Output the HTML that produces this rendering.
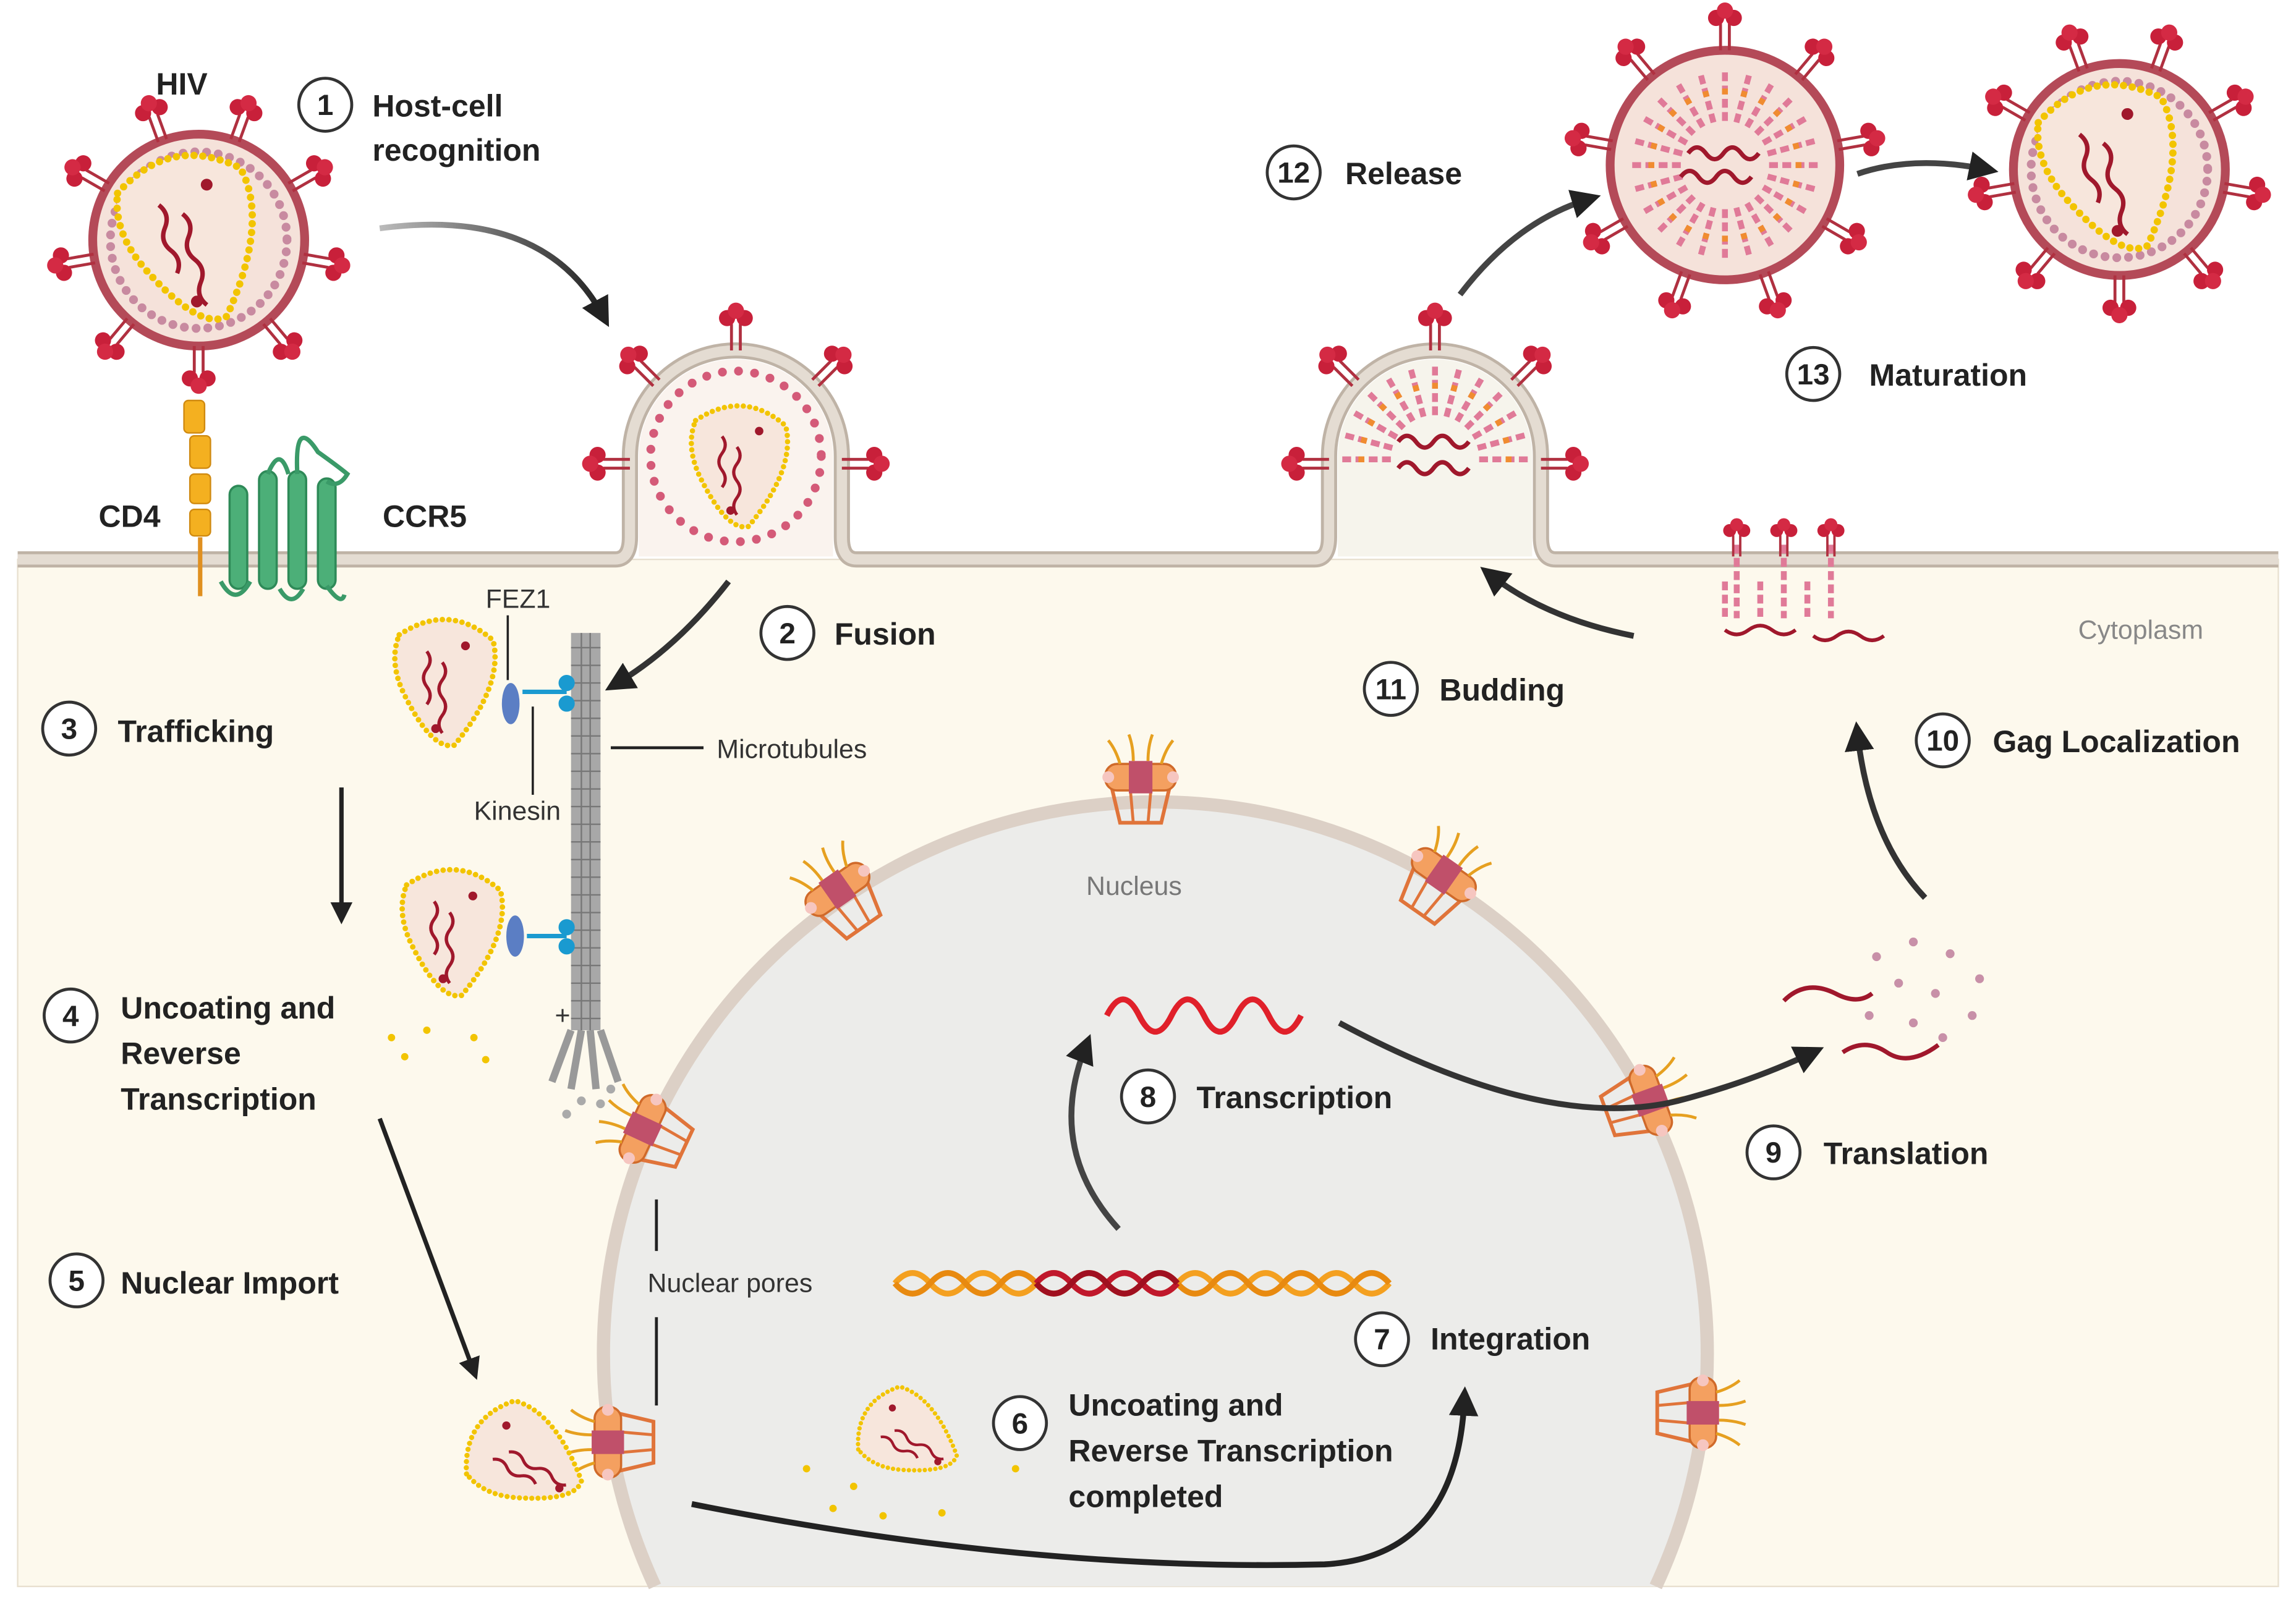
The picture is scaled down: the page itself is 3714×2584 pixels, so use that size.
<!DOCTYPE html>
<html><head><meta charset="utf-8">
<style>
html,body{margin:0;padding:0;background:#fff;width:3714px;height:2584px;overflow:hidden;position:relative;}
svg{display:block;position:absolute;left:0;top:0;}
text{font-family:"Liberation Sans",sans-serif;}
.b{font-weight:bold;font-size:21px;fill:#222;}
.n{font-weight:bold;font-size:20px;fill:#222;text-anchor:middle;}
.s{font-size:18px;fill:#333;}
</style></head><body>
<svg width="3714" height="2584" viewBox="0 0 1560 1085" xmlns="http://www.w3.org/2000/svg" overflow="hidden">
<defs>
  <marker id="ah" viewBox="0 0 10 10" refX="6" refY="5" markerWidth="5" markerHeight="5" orient="auto">
    <path d="M0,0 L10,5 L0,10 z" fill="#222"/>
  </marker>
  <linearGradient id="fadeL" x1="0" x2="1"><stop offset="0" stop-color="#bbb"/><stop offset="1" stop-color="#222"/></linearGradient>
  <g id="spike">
    <line x1="-3" y1="0" x2="-3" y2="-18" stroke="#b03040" stroke-width="2"/>
    <line x1="3" y1="0" x2="3" y2="-18" stroke="#b03040" stroke-width="2"/>
    <circle cx="-6" cy="-22" r="5.5" fill="#c8203a"/>
    <circle cx="6" cy="-22" r="5.5" fill="#c8203a"/>
    <circle cx="0" cy="-27" r="5.5" fill="#d42a44"/>
  </g>
  <g id="capsid">
    <path d="M-45,-45 Q0,-75 40,-40 Q50,0 5,55 Q-15,60 -40,10 Q-55,-20 -45,-45 z" fill="#f7e6dc" stroke="#f2c400" stroke-width="5" stroke-dasharray="0 6" stroke-linecap="round"/>
    <path d="M-20,-30 q6,8 0,16 q-6,8 0,16 q6,8 0,16" fill="none" stroke="#a0182c" stroke-width="3"/>
    <path d="M-6,-20 q6,8 0,16 q-6,8 0,16 q6,8 0,16 q-6,8 0,16" fill="none" stroke="#a0182c" stroke-width="3"/>
    <circle cx="15" cy="-35" r="4" fill="#a0182c"/><circle cx="-12" cy="40" r="4" fill="#a0182c"/>
  </g>
  <g id="spikes72">
    <g transform="rotate(20)"><use href="#spike" transform="translate(0,-72)"/></g>
    <g transform="rotate(60)"><use href="#spike" transform="translate(0,-72)"/></g>
    <g transform="rotate(100)"><use href="#spike" transform="translate(0,-72)"/></g>
    <g transform="rotate(140)"><use href="#spike" transform="translate(0,-72)"/></g>
    <g transform="rotate(180)"><use href="#spike" transform="translate(0,-72)"/></g>
    <g transform="rotate(220)"><use href="#spike" transform="translate(0,-72)"/></g>
    <g transform="rotate(260)"><use href="#spike" transform="translate(0,-72)"/></g>
    <g transform="rotate(300)"><use href="#spike" transform="translate(0,-72)"/></g>
    <g transform="rotate(340)"><use href="#spike" transform="translate(0,-72)"/></g>
  </g>
  <g id="virion">
    <circle r="72" fill="#f5e2da" stroke="#b44a58" stroke-width="6"/>
    <circle r="60" fill="none" stroke="#c88aa0" stroke-width="6" stroke-dasharray="0 8" stroke-linecap="round"/>
    <use href="#capsid" transform="rotate(-15)"/>
    <use href="#spikes72"/>
  </g>
  <g id="ray"><line x1="0" y1="-30" x2="0" y2="-66" stroke="#e07a98" stroke-width="4" stroke-dasharray="6 3"/><line x1="0" y1="-48" x2="0" y2="-52" stroke="#f08c30" stroke-width="4"/></g>
  <g id="immature">
    <circle r="78" fill="#f5e2da" stroke="#b44a58" stroke-width="6"/>
    <g>
      <use href="#ray" transform="rotate(0)"/><use href="#ray" transform="rotate(15)"/><use href="#ray" transform="rotate(30)"/><use href="#ray" transform="rotate(45)"/><use href="#ray" transform="rotate(60)"/><use href="#ray" transform="rotate(75)"/><use href="#ray" transform="rotate(90)"/><use href="#ray" transform="rotate(105)"/><use href="#ray" transform="rotate(120)"/><use href="#ray" transform="rotate(135)"/><use href="#ray" transform="rotate(150)"/><use href="#ray" transform="rotate(165)"/><use href="#ray" transform="rotate(180)"/><use href="#ray" transform="rotate(195)"/><use href="#ray" transform="rotate(210)"/><use href="#ray" transform="rotate(225)"/><use href="#ray" transform="rotate(240)"/><use href="#ray" transform="rotate(255)"/><use href="#ray" transform="rotate(270)"/><use href="#ray" transform="rotate(285)"/><use href="#ray" transform="rotate(300)"/><use href="#ray" transform="rotate(315)"/><use href="#ray" transform="rotate(330)"/><use href="#ray" transform="rotate(345)"/>
    </g>
    <path d="M-25,-8 q6,-8 12,0 q6,8 12,0 q6,-8 12,0 q6,8 12,0" fill="none" stroke="#a0182c" stroke-width="3"/>
    <path d="M-30,8 q6,-8 12,0 q6,8 12,0 q6,-8 12,0 q6,8 12,0" fill="none" stroke="#a0182c" stroke-width="3"/>
    <g transform="rotate(0)"><use href="#spike" transform="translate(0,-78)"/></g>
    <g transform="rotate(40)"><use href="#spike" transform="translate(0,-78)"/></g>
    <g transform="rotate(80)"><use href="#spike" transform="translate(0,-78)"/></g>
    <g transform="rotate(120)"><use href="#spike" transform="translate(0,-78)"/></g>
    <g transform="rotate(160)"><use href="#spike" transform="translate(0,-78)"/></g>
    <g transform="rotate(200)"><use href="#spike" transform="translate(0,-78)"/></g>
    <g transform="rotate(240)"><use href="#spike" transform="translate(0,-78)"/></g>
    <g transform="rotate(280)"><use href="#spike" transform="translate(0,-78)"/></g>
    <g transform="rotate(320)"><use href="#spike" transform="translate(0,-78)"/></g>
  </g>
  <g id="pore">
    <path d="M-22,-10 L22,-10 L14,24 L-14,24 z" fill="none" stroke="#e0743a" stroke-width="2.5"/>
    <line x1="-8" y1="-10" x2="-5" y2="24" stroke="#e0743a" stroke-width="2"/><line x1="8" y1="-10" x2="5" y2="24" stroke="#e0743a" stroke-width="2"/>
    <rect x="-24" y="-16" width="48" height="18" rx="8" fill="#f4a060" stroke="#d06a2a" stroke-width="1.5"/>
    <rect x="-8" y="-18" width="16" height="22" fill="#c0506a"/>
    <circle cx="-22" cy="-7" r="4" fill="#f6c6c0"/><circle cx="22" cy="-7" r="4" fill="#f6c6c0"/>
    <path d="M-14,-16 q-3,-10 -8,-16 M-5,-18 q0,-10 -3,-18 M5,-18 q0,-10 3,-18 M14,-16 q3,-10 8,-16" fill="none" stroke="#e6a020" stroke-width="2"/>
  </g>
  <g id="cnum"><circle r="18" fill="#fff" stroke="#333" stroke-width="2"/></g>
</defs>

<rect x="12" y="380" width="1536" height="698" fill="#fdf9ed" stroke="#e8e0d0" stroke-width="1"/>
<path d="M445,1078 A375,375 0 1 1 1125,1078 Z" fill="#ececea"/>
<path d="M445,1078 A375,375 0 1 1 1125,1078" fill="none" stroke="#dcd0c6" stroke-width="9"/>

<path d="M12,380 L418,380 Q428,380 428,365 L428,310 A72,72 0 0 1 572,310 L572,365 Q572,380 582,380 L893,380 Q903,380 903,365 L903,310 A72,72 0 0 1 1047,310 L1047,365 Q1047,380 1057,380 L1548,380" fill="none" stroke="#bfb3a6" stroke-width="11"/>
<path d="M12,380 L418,380 Q428,380 428,365 L428,310 A72,72 0 0 1 572,310 L572,365 Q572,380 582,380 L893,380 Q903,380 903,365 L903,310 A72,72 0 0 1 1047,310 L1047,365 Q1047,380 1057,380 L1548,380" fill="none" stroke="#e4dcd2" stroke-width="7"/>
<path d="M434,378 L434,310 A66,66 0 0 1 566,310 L566,378 z" fill="#faf3ee"/>
<path d="M909,378 L909,310 A66,66 0 0 1 1041,310 L1041,378 z" fill="#f6f4ec"/>

<circle cx="500" cy="310" r="58" fill="none" stroke="#d45a78" stroke-width="6" stroke-dasharray="0 11" stroke-linecap="round"/>
<use href="#capsid" transform="translate(505,318) scale(0.72)"/>
<use href="#spike" transform="translate(500,238)"/>
<use href="#spike" transform="translate(446,260) rotate(-45)"/>
<use href="#spike" transform="translate(554,260) rotate(45)"/>
<use href="#spike" transform="translate(428,315) rotate(-90)"/>
<use href="#spike" transform="translate(572,315) rotate(90)"/>

<g transform="translate(975,312)">
  <use href="#ray" transform="rotate(-90)"/><use href="#ray" transform="rotate(-75)"/><use href="#ray" transform="rotate(-60)"/><use href="#ray" transform="rotate(-45)"/><use href="#ray" transform="rotate(-30)"/><use href="#ray" transform="rotate(-15)"/><use href="#ray" transform="rotate(0)"/><use href="#ray" transform="rotate(15)"/><use href="#ray" transform="rotate(30)"/><use href="#ray" transform="rotate(45)"/><use href="#ray" transform="rotate(60)"/><use href="#ray" transform="rotate(75)"/><use href="#ray" transform="rotate(90)"/>
  <path d="M-25,-12 q6,-8 12,0 q6,8 12,0 q6,-8 12,0 q6,8 12,0" fill="none" stroke="#a0182c" stroke-width="3"/>
  <path d="M-25,6 q6,-8 12,0 q6,8 12,0 q6,-8 12,0 q6,8 12,0" fill="none" stroke="#a0182c" stroke-width="3"/>
</g>
<use href="#spike" transform="translate(975,238)"/>
<use href="#spike" transform="translate(921,260) rotate(-45)"/>
<use href="#spike" transform="translate(1029,260) rotate(45)"/>
<use href="#spike" transform="translate(903,315) rotate(-90)"/>
<use href="#spike" transform="translate(1047,315) rotate(90)"/>

<g>
  <g transform="translate(1180,370)"><line x1="0" y1="0" x2="0" y2="50" stroke="#e07a98" stroke-width="4" stroke-dasharray="6 3"/><use href="#spike" transform="translate(0,8) scale(0.8)"/></g>
  <g transform="translate(1212,370)"><line x1="0" y1="0" x2="0" y2="50" stroke="#e07a98" stroke-width="4" stroke-dasharray="6 3"/><use href="#spike" transform="translate(0,8) scale(0.8)"/></g>
  <g transform="translate(1244,370)"><line x1="0" y1="0" x2="0" y2="50" stroke="#e07a98" stroke-width="4" stroke-dasharray="6 3"/><use href="#spike" transform="translate(0,8) scale(0.8)"/></g>
  <line x1="1172" y1="395" x2="1172" y2="420" stroke="#e07a98" stroke-width="4" stroke-dasharray="6 3"/>
  <line x1="1196" y1="395" x2="1196" y2="420" stroke="#e07a98" stroke-width="4" stroke-dasharray="6 3"/>
  <line x1="1228" y1="395" x2="1228" y2="420" stroke="#e07a98" stroke-width="4" stroke-dasharray="6 3"/>
  <path d="M1172,428 q8,6 16,0 q8,-6 16,0 q8,6 16,0" fill="none" stroke="#a0182c" stroke-width="2.5"/>
  <path d="M1232,432 q8,6 16,0 q8,-6 16,0 q8,6 16,0" fill="none" stroke="#a0182c" stroke-width="2.5"/>
</g>

<use href="#virion" transform="translate(135,163)"/>
<use href="#immature" transform="translate(1172,112)"/>
<use href="#virion" transform="translate(1440,115)"/>

<rect x="125" y="272" width="14" height="22" rx="3" fill="#f4b020" stroke="#d08a10"/>
<rect x="129" y="296" width="14" height="22" rx="3" fill="#f4b020" stroke="#d08a10"/>
<rect x="129" y="322" width="14" height="20" rx="3" fill="#f4b020" stroke="#d08a10"/>
<rect x="129" y="346" width="14" height="18" rx="3" fill="#f4b020" stroke="#d08a10"/>
<line x1="136" y1="365" x2="136" y2="405" stroke="#e09020" stroke-width="3"/>
<g fill="#4caf78" stroke="#2e8a58" stroke-width="1.5">
  <rect x="156" y="330" width="12" height="70" rx="6"/>
  <rect x="176" y="320" width="12" height="80" rx="6"/>
  <rect x="196" y="320" width="12" height="80" rx="6"/>
  <rect x="216" y="325" width="12" height="75" rx="6"/>
</g>
<path d="M150,395 q10,18 20,0 M190,400 q8,14 16,0 M222,398 q10,14 12,6 M182,322 q8,-20 14,0 M202,322 q-2,-40 14,-15 q14,10 20,15 q-6,10 -14,5" fill="none" stroke="#3a9a68" stroke-width="3"/>

<rect x="388" y="430" width="20" height="270" fill="#a8a8a8"/>
<g stroke="#777" stroke-width="1">
<path d="M388,440 h20 M388,452 h20 M388,464 h20 M388,476 h20 M388,488 h20 M388,500 h20 M388,512 h20 M388,524 h20 M388,536 h20 M388,548 h20 M388,560 h20 M388,572 h20 M388,584 h20 M388,596 h20 M388,608 h20 M388,620 h20 M388,632 h20 M388,644 h20 M388,656 h20 M388,668 h20 M388,680 h20 M388,692 h20"/>
<line x1="395" y1="430" x2="395" y2="700"/><line x1="401" y1="430" x2="401" y2="700"/>
</g>
<path d="M388,700 L375,735 M395,700 L388,740 M401,700 L405,740 M408,700 L420,735" stroke="#999" stroke-width="5"/>
<circle cx="385" cy="757" r="3" fill="#aaa"/><circle cx="395" cy="748" r="3" fill="#aaa"/><circle cx="408" cy="750" r="3" fill="#aaa"/><circle cx="415" cy="740" r="3" fill="#aaa"/>
<text x="377" y="696" class="s" font-size="14">+</text>
<line x1="415" y1="508" x2="478" y2="508" stroke="#222" stroke-width="2"/>

<use href="#capsid" transform="translate(305,465) scale(0.75)"/>
<use href="#capsid" transform="translate(310,635) scale(0.75)"/>
<g fill="#5b7ec4"><ellipse cx="347" cy="478" rx="6" ry="14"/><ellipse cx="350" cy="636" rx="6" ry="14"/></g>
<g stroke="#1a9ad0" stroke-width="3" fill="#1a9ad0">
  <line x1="355" y1="470" x2="385" y2="470"/><circle cx="385" cy="464" r="4"/><circle cx="385" cy="478" r="4"/>
  <line x1="358" y1="636" x2="385" y2="636"/><circle cx="385" cy="630" r="4"/><circle cx="385" cy="643" r="4"/>
</g>
<line x1="345" y1="418" x2="345" y2="462" stroke="#222" stroke-width="1.5"/>
<line x1="362" y1="480" x2="362" y2="540" stroke="#222" stroke-width="1.5"/>
<g fill="#f2c400"><circle cx="266" cy="705" r="2.5"/><circle cx="275" cy="718" r="2.5"/><circle cx="322" cy="705" r="2.5"/><circle cx="330" cy="720" r="2.5"/><circle cx="290" cy="700" r="2.5"/></g>

<use href="#pore" transform="translate(775,535)"/>
<use href="#pore" transform="translate(573,610) rotate(-35)"/>
<use href="#pore" transform="translate(977,600) rotate(35)"/>
<use href="#pore" transform="translate(443,770) rotate(-65)"/>
<use href="#pore" transform="translate(1115,750) rotate(70)"/>
<use href="#pore" transform="translate(420,980) rotate(-90)"/>
<use href="#pore" transform="translate(1150,960) rotate(90)"/>
<line x1="446" y1="815" x2="446" y2="850" stroke="#222" stroke-width="2"/>
<line x1="446" y1="895" x2="446" y2="955" stroke="#222" stroke-width="2"/>

<use href="#capsid" transform="translate(360,990) rotate(-60) scale(0.7)"/>
<use href="#capsid" transform="translate(620,975) rotate(-60) scale(0.6)"/>
<g fill="#f2c400"><circle cx="548" cy="998" r="2.5"/><circle cx="566" cy="1025" r="2.5"/><circle cx="580" cy="1010" r="2.5"/><circle cx="600" cy="1030" r="2.5"/><circle cx="640" cy="1028" r="2.5"/><circle cx="690" cy="998" r="2.5"/></g>

<path d="M608,872 q12,-14 24,0 t24,0 t24,0 t24,0 t24,0 t24,0 t24,0 t24,0 t24,0 t24,0 t24,0 t24,0 t24,0 t24,0" fill="none" stroke="#f4a020" stroke-width="4"/>
<path d="M608,872 q12,14 24,0 t24,0 t24,0 t24,0 t24,0 t24,0 t24,0 t24,0 t24,0 t24,0 t24,0 t24,0 t24,0 t24,0" fill="none" stroke="#e88a10" stroke-width="4"/>
<path d="M704,872 q12,-14 24,0 t24,0 t24,0 t24,0" fill="none" stroke="#c0182c" stroke-width="4"/>
<path d="M704,872 q12,14 24,0 t24,0 t24,0 t24,0" fill="none" stroke="#a01020" stroke-width="4"/>
<path d="M752,690 q11,-22 22,0 t22,0 t22,0 t22,0 t22,0 t22,0" fill="none" stroke="#e0202a" stroke-width="4"/>
<path d="M1212,680 q15,-15 35,-5 q15,8 25,0" fill="none" stroke="#a0182c" stroke-width="3"/>
<path d="M1252,715 q15,-10 30,0 q15,10 35,-5" fill="none" stroke="#a0182c" stroke-width="3"/>
<g fill="#c890a8"><circle cx="1275" cy="650" r="3"/><circle cx="1300" cy="640" r="3"/><circle cx="1325" cy="648" r="3"/><circle cx="1345" cy="665" r="3"/><circle cx="1290" cy="668" r="3"/><circle cx="1315" cy="675" r="3"/><circle cx="1340" cy="690" r="3"/><circle cx="1270" cy="690" r="3"/><circle cx="1300" cy="695" r="3"/><circle cx="1320" cy="705" r="3"/></g>

<g fill="none" stroke-width="4" marker-end="url(#ah)">
  <path d="M258,155 Q370,140 410,215" stroke="url(#fadeL)"/>
  <path d="M495,395 Q460,440 418,465" stroke="#333"/>
  <line x1="232" y1="535" x2="232" y2="622" stroke="#222" stroke-width="3"/>
  <path d="M258,760 L322,932" stroke="#222" stroke-width="3"/>
  <path d="M470,1022 Q700,1068 900,1063 Q990,1058 995,950" stroke="#222"/>
  <path d="M760,835 Q710,780 738,710" stroke="#444"/>
  <path d="M910,695 Q1050,770 1140,748 Q1190,735 1232,715" stroke="#333"/>
  <path d="M1308,610 Q1270,570 1262,498" stroke="#333"/>
  <path d="M1110,432 Q1050,420 1012,390" stroke="#333"/>
  <path d="M992,200 Q1030,150 1080,135" stroke="#444"/>
  <path d="M1262,118 Q1300,105 1350,115" stroke="#444"/>
</g>

<g>
<use href="#cnum" transform="translate(221,71)"/><text x="221" y="78" class="n">1</text>
<use href="#cnum" transform="translate(535,430)"/><text x="535" y="437" class="n">2</text>
<use href="#cnum" transform="translate(47,495)"/><text x="47" y="502" class="n">3</text>
<use href="#cnum" transform="translate(48,690)"/><text x="48" y="697" class="n">4</text>
<use href="#cnum" transform="translate(52,870)"/><text x="52" y="877" class="n">5</text>
<use href="#cnum" transform="translate(693,967)"/><text x="693" y="974" class="n">6</text>
<use href="#cnum" transform="translate(939,910)"/><text x="939" y="917" class="n">7</text>
<use href="#cnum" transform="translate(780,745)"/><text x="780" y="752" class="n">8</text>
<use href="#cnum" transform="translate(1205,783)"/><text x="1205" y="790" class="n">9</text>
<use href="#cnum" transform="translate(1320,503)"/><text x="1320" y="510" class="n">10</text>
<use href="#cnum" transform="translate(945,468)"/><text x="945" y="475" class="n">11</text>
<use href="#cnum" transform="translate(879,117)"/><text x="879" y="124" class="n">12</text>
<use href="#cnum" transform="translate(1232,254)"/><text x="1232" y="261" class="n">13</text>
</g>

<text x="106" y="64" class="b">HIV</text>
<text x="253" y="79" class="b">Host-cell</text>
<text x="253" y="109" class="b">recognition</text>
<text x="67" y="358" class="b">CD4</text>
<text x="260" y="358" class="b">CCR5</text>
<text x="567" y="438" class="b">Fusion</text>
<text x="80" y="504" class="b">Trafficking</text>
<text x="330" y="413" class="s">FEZ1</text>
<text x="322" y="557" class="s">Kinesin</text>
<text x="487" y="515" class="s" font-size="20">Microtubules</text>
<text x="82" y="692" class="b">Uncoating and</text>
<text x="82" y="723" class="b">Reverse</text>
<text x="82" y="754" class="b">Transcription</text>
<text x="82" y="879" class="b">Nuclear Import</text>
<text x="440" y="878" class="s" font-size="20">Nuclear pores</text>
<text x="738" y="608" class="s" font-size="21" style="fill:#777">Nucleus</text>
<text x="726" y="962" class="b">Uncoating and</text>
<text x="726" y="993" class="b">Reverse Transcription</text>
<text x="726" y="1024" class="b">completed</text>
<text x="972" y="917" class="b">Integration</text>
<text x="813" y="753" class="b">Transcription</text>
<text x="1239" y="791" class="b">Translation</text>
<text x="1354" y="511" class="b">Gag Localization</text>
<text x="978" y="476" class="b">Budding</text>
<text x="914" y="125" class="b">Release</text>
<text x="1270" y="262" class="b">Maturation</text>
<text x="1412" y="434" class="s" font-size="21" style="fill:#888">Cytoplasm</text>
</svg>
</body></html>
